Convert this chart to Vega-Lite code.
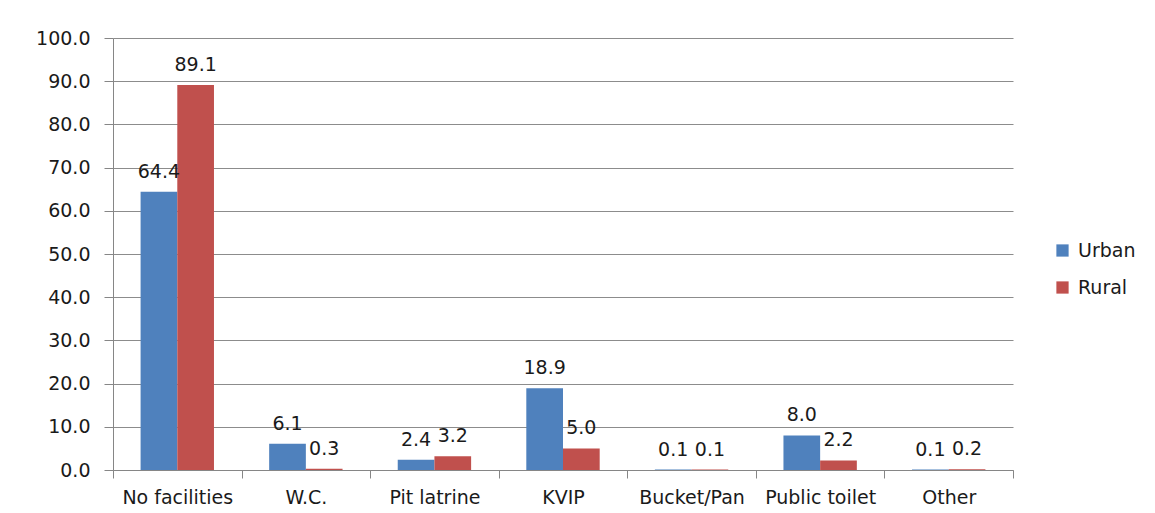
{
  "$schema": "https://vega.github.io/schema/vega-lite/v6.json",
  "width": 900,
  "height": 432,
  "autosize": {"type": "none"},
  "padding": {"left": 113, "top": 38, "right": 142, "bottom": 43},
  "background": "white",
  "config": {
    "font": "DejaVu Sans",
    "view": {"stroke": null},
    "axis": {"labelFont": "DejaVu Sans", "labelFontSize": 19, "labelColor": "#1a1a1a"}
  },
  "data": {
    "values": [
      {"category": "No facilities", "area": "Urban", "value": 64.4},
      {"category": "No facilities", "area": "Rural", "value": 89.1},
      {"category": "W.C.", "area": "Urban", "value": 6.1},
      {"category": "W.C.", "area": "Rural", "value": 0.3},
      {"category": "Pit latrine", "area": "Urban", "value": 2.4},
      {"category": "Pit latrine", "area": "Rural", "value": 3.2},
      {"category": "KVIP", "area": "Urban", "value": 18.9},
      {"category": "KVIP", "area": "Rural", "value": 5.0},
      {"category": "Bucket/Pan", "area": "Urban", "value": 0.1},
      {"category": "Bucket/Pan", "area": "Rural", "value": 0.1},
      {"category": "Public toilet", "area": "Urban", "value": 8.0},
      {"category": "Public toilet", "area": "Rural", "value": 2.2},
      {"category": "Other", "area": "Urban", "value": 0.1},
      {"category": "Other", "area": "Rural", "value": 0.2}
    ]
  },
  "encoding": {
    "x": {
      "field": "category",
      "type": "nominal",
      "sort": null,
      "scale": {"paddingInner": 0, "paddingOuter": 0},
      "axis": {
        "title": null,
        "labelAngle": 0,
        "tickBand": "extent",
        "domainColor": "#868686",
        "tickColor": "#868686",
        "tickSize": 8,
        "labelPadding": 10,
        "labelLimit": 0,
        "labelOverlap": false,
        "grid": false
      }
    },
    "xOffset": {
      "field": "area",
      "type": "nominal",
      "sort": ["Urban", "Rural"],
      "scale": {"paddingInner": 0, "paddingOuter": 0.752}
    },
    "y": {
      "field": "value",
      "type": "quantitative",
      "scale": {"domain": [0, 100], "nice": false},
      "axis": {
        "title": null,
        "values": [0, 10, 20, 30, 40, 50, 60, 70, 80, 90, 100],
        "format": ".1f",
        "grid": true,
        "gridColor": "#8c8c8c",
        "gridWidth": 1,
        "domainColor": "#868686",
        "tickColor": "#868686",
        "tickSize": 9,
        "labelPadding": 14
      }
    }
  },
  "layer": [
    {
      "mark": {"type": "bar"},
      "encoding": {
        "color": {
          "field": "area",
          "type": "nominal",
          "sort": ["Urban", "Rural"],
          "scale": {"domain": ["Urban", "Rural"], "range": ["#4F81BD", "#C0504D"]},
          "legend": {
            "title": null,
            "orient": "none",
            "legendX": 940,
            "legendY": 203,
            "symbolType": "square",
            "symbolSize": 150,
            "symbolStrokeWidth": 0,
            "labelFont": "DejaVu Sans",
            "labelFontSize": 19,
            "labelColor": "#1a1a1a",
            "rowPadding": 17,
            "labelOffset": 6
          }
        }
      }
    },
    {
      "mark": {"type": "text", "baseline": "alphabetic", "dy": -14, "fontSize": 19, "font": "DejaVu Sans", "color": "#1a1a1a"},
      "encoding": {
        "text": {"field": "value", "type": "quantitative", "format": ".1f"}
      }
    }
  ]
}
